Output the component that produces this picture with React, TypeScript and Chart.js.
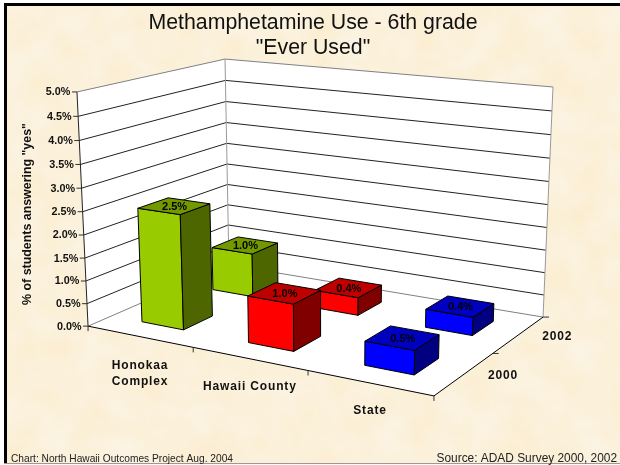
import React, { useEffect, useRef } from "react";
import { Chart, registerables } from "chart.js";

Chart.register(...registerables);

const titleLines = ["Methamphetamine Use - 6th grade", '"Ever Used"'];
const categories = ["Honokaa Complex", "Hawaii County", "State"];
const categoryLines = [["Honokaa", "Complex"], ["Hawaii County"], ["State"]];
const years = ["2000", "2002"];
const values2000 = [2.5, 1.0, 0.5];
const values2002 = [1.0, 0.4, 0.4];
const frontColors = ["#99CC00", "#FF0000", "#0000FF"];
const topColors = ["#739900", "#BF0000", "#0000BF"];
const sideColors = ["#4D6600", "#800000", "#000080"];
const axisTitle = '% of students answering "yes"';
const footerLeft = "Chart: North Hawaii Outcomes Project Aug. 2004";
const footerRight = "Source: ADAD Survey 2000, 2002";

// Camera calibration: [across, depth, height] in 0..1 -> canvas pixel.
const CAMERA_POINTS = [
  [0, 0, 0, 88, 326],
  [1, 0, 0, 434, 396],
  [1, 1, 0, 543, 317],
  [0, 1, 0, 229, 265],
  [0, 0, 1, 77, 92],
  [0, 1, 1, 225, 59],
  [1, 1, 1, 553, 87],
];
const BAR_FRACTION = 0.4;
const FONT = '"Liberation Sans", Arial, sans-serif';

function solveCamera(points: number[][]) {
  const n = 11;
  const A = Array.from({ length: n }, () => new Array(n + 1).fill(0));
  const add = (row: number[], rhs: number) => {
    for (let i = 0; i < n; i++) {
      for (let j = 0; j < n; j++) A[i][j] += row[i] * row[j];
      A[i][n] += row[i] * rhs;
    }
  };
  for (const [u, w, h, px, py] of points) {
    const x = px / 100;
    const y = py / 100;
    add([u, w, h, 1, 0, 0, 0, 0, -x * u, -x * w, -x * h], x);
    add([0, 0, 0, 0, u, w, h, 1, -y * u, -y * w, -y * h], y);
  }
  for (let c = 0; c < n; c++) {
    let best = c;
    for (let r = c + 1; r < n; r++) if (Math.abs(A[r][c]) > Math.abs(A[best][c])) best = r;
    [A[c], A[best]] = [A[best], A[c]];
    for (let r = 0; r < n; r++) {
      if (r === c) continue;
      const f = A[r][c] / A[c][c];
      for (let k = c; k <= n; k++) A[r][k] -= f * A[c][k];
    }
  }
  return A.map((row, i) => row[n] / row[i]);
}
const P = solveCamera(CAMERA_POINTS);
function project(u: number, w: number, h: number): [number, number] {
  const d = P[8] * u + P[9] * w + P[10] * h + 1;
  return [
    (100 * (P[0] * u + P[1] * w + P[2] * h + P[3])) / d,
    (100 * (P[4] * u + P[5] * w + P[6] * h + P[7])) / d,
  ];
}

const fmt = (v: number) => v.toFixed(1) + "%";

const scene3d = {
  id: "scene3d",
  afterDatasetsDraw(chart: any) {
    const { ctx, scales } = chart;
    const xs = scales.x;
    const ys = scales.y;
    const ds = scales.depth;
    const U = (i: number) => (xs.getPixelForValue(i) - xs.left) / xs.width;
    const W = (i: number) => (ds.getPixelForValue(i) - ds.left) / ds.width;
    const H = (v: number) => (ys.bottom - ys.getPixelForValue(v)) / ys.height;

    const poly = (pts: [number, number][], fill?: string, stroke?: string) => {
      ctx.beginPath();
      pts.forEach((p, i) => (i ? ctx.lineTo(p[0], p[1]) : ctx.moveTo(p[0], p[1])));
      ctx.closePath();
      if (fill) { ctx.fillStyle = fill; ctx.fill(); }
      if (stroke) { ctx.strokeStyle = stroke; ctx.lineWidth = 1; ctx.stroke(); }
    };
    const line = (a: [number, number], b: [number, number], color: string, width = 1) => {
      ctx.beginPath();
      ctx.moveTo(a[0], a[1]);
      ctx.lineTo(b[0], b[1]);
      ctx.strokeStyle = color;
      ctx.lineWidth = width;
      ctx.stroke();
    };

    ctx.save();
    // walls and floor
    poly([project(0, 0, 0), project(0, 1, 0), project(0, 1, 1), project(0, 0, 1)], "#fff");
    poly([project(0, 1, 0), project(1, 1, 0), project(1, 1, 1), project(0, 1, 1)], "#fff");
    poly([project(0, 0, 0), project(1, 0, 0), project(1, 1, 0), project(0, 1, 0)], "#fff");

    // value gridlines and axis labels
    const ticks = ys.getTicks();
    ticks.forEach((t: any) => {
      const h = H(t.value);
      const edge = t.value === 0 || t.value === ys.max;
      const col = edge ? "#808080" : "#222";
      line(project(0, 0, h), project(0, 1, h), col);
      line(project(0, 1, h), project(1, 1, h), col);
      const p = project(0, 0, h);
      line([p[0] - 5, p[1]], p, "#333");
      ctx.fillStyle = "#111";
      ctx.font = `bold 10.8px ${FONT}`;
      ctx.textAlign = "right";
      ctx.textBaseline = "middle";
      ctx.fillText(fmt(t.value), p[0] - 6.5, p[1] + 0.5);
    });
    line(project(0, 1, 0), project(0, 1, 1), "#999");
    line(project(1, 1, 0), project(1, 1, 1), "#999");
    line(project(0, 0, 0), project(0, 0, 1), "#222");

    // floor edges
    line(project(0, 0, 0), project(1, 0, 0), "#000");
    line(project(1, 0, 0), project(1, 1, 0), "#000");
    const nCat = categories.length;
    const nDepth = years.length;
    for (let i = 0; i <= nCat; i++) {
      const p = project(i / nCat, 0, 0);
      line(p, [p[0], p[1] + 5], "#333");
    }
    for (let i = 1; i <= nDepth; i++) {
      const p = project(1, i / nDepth, 0);
      line(p, [p[0] + 6, p[1]], "#333");
    }

    // bars, far row first
    const hu = BAR_FRACTION / (2 * nCat);
    const hw = BAR_FRACTION / (2 * nDepth);
    for (let d = nDepth - 1; d >= 0; d--) {
      const values = chart.data.datasets[d].data as number[];
      values.forEach((v, i) => {
        const u0 = U(i) - hu, u1 = U(i) + hu;
        const w0 = W(d) - hw, w1 = W(d) + hw;
        const h = H(v);
        poly([project(u0, w0, 0), project(u1, w0, 0), project(u1, w0, h), project(u0, w0, h)], frontColors[i], "#000");
        poly([project(u1, w0, 0), project(u1, w1, 0), project(u1, w1, h), project(u1, w0, h)], sideColors[i], "#000");
        poly([project(u0, w0, h), project(u1, w0, h), project(u1, w1, h), project(u0, w1, h)], topColors[i], "#000");
      });
    }
    // value labels on the bar tops
    ctx.font = `bold 11px ${FONT}`;
    ctx.textAlign = "center";
    ctx.textBaseline = "middle";
    ctx.fillStyle = "#000";
    for (let d = nDepth - 1; d >= 0; d--) {
      (chart.data.datasets[d].data as number[]).forEach((v, i) => {
        const p = project(U(i), W(d), H(v));
        ctx.fillText(fmt(v), p[0] + 0.5, p[1] + 1);
      });
    }

    // category labels
    ctx.font = `bold 12px ${FONT}`;
    ctx.fillStyle = "#111";
    (ctx as any).letterSpacing = "0.85px";
    ctx.textAlign = "center";
    categoryLines.forEach((lines, i) => {
      const p = project(U(i), 0, 0);
      lines.forEach((s, k) => ctx.fillText(s, p[0] + (i === 0 ? 0.5 : 0.5), p[1] + (i === 0 ? 29 : 28) + k * 16));
    });
    ctx.textAlign = "left";
    years.forEach((y, i) => {
      const p = project(1, W(i), 0);
      ctx.fillText(y, p[0] + 23.5, p[1] + 2);
    });
    (ctx as any).letterSpacing = "0px";

    // axis title
    ctx.save();
    ctx.translate(28, 214);
    ctx.rotate(-Math.PI / 2);
    ctx.textAlign = "center";
    ctx.font = `bold 12.4px ${FONT}`;
    ctx.fillText(axisTitle, 0, 0);
    ctx.restore();

    // footers
    ctx.textBaseline = "alphabetic";
    ctx.textAlign = "left";
    ctx.fillStyle = "#222";
    ctx.font = `10.2px ${FONT}`;
    ctx.fillText(footerLeft, 11, 462);
    ctx.textAlign = "right";
    ctx.font = `11.9px ${FONT}`;
    ctx.fillText(footerRight, 617, 462);
    ctx.restore();
  },
};

export default function App() {
  const ref = useRef<HTMLCanvasElement>(null);
  useEffect(() => {
    const chart = new Chart(ref.current!, {
      type: "bar",
      data: {
        labels: categories,
        datasets: [
          { label: years[0], data: values2000, backgroundColor: "transparent" },
          { label: years[1], data: values2002, backgroundColor: "transparent" },
        ],
      },
      options: {
        animation: false,
        responsive: false,
        events: [],
        layout: { padding: { left: 6 } },
        scales: {
          x: { type: "category", offset: true, display: false },
          depth: { type: "category", axis: "x", labels: years, offset: true, display: false },
          y: { type: "linear", min: 0, max: 5, ticks: { stepSize: 0.5 }, display: false },
        },
        plugins: {
          legend: { display: false },
          tooltip: { enabled: false },
          title: {
            display: true,
            text: titleLines,
            color: "#111",
            font: { family: FONT, size: 21.3, weight: "normal", lineHeight: 1.2 },
            padding: { top: 10, bottom: 4 },
          },
        },
      } as any,
      plugins: [scene3d],
    });
    return () => chart.destroy();
  }, []);
  return (
    <div style={{ position: "fixed", left: 0, top: 0, width: 620, height: 465, overflow: "hidden", background: "#fff" }}>
      <svg width={616} height={460} style={{ position: "absolute", left: 4, top: 3 }}>
        <filter id="parchment" x="0" y="0" width="100%" height="100%" colorInterpolationFilters="sRGB">
          <feTurbulence type="fractalNoise" baseFrequency="0.03" numOctaves={4} seed={7} />
          <feColorMatrix
            type="matrix"
            values="0 0 0 0 0.985
                    0.035 0 0 0 0.925
                    0.11 0 0 0 0.80
                    0 0 0 0 1"
          />
        </filter>
        <rect width="616" height="460" filter="url(#parchment)" />
      </svg>
      <div style={{ position: "absolute", left: 4, top: 3, width: 616, height: 3, background: "#000" }} />
      <div style={{ position: "absolute", left: 4, top: 3, width: 3, height: 460, background: "#000" }} />
      <div style={{ position: "absolute", left: 4, top: 463, width: 616, height: 1, background: "#999" }} />
      <canvas ref={ref} width={620} height={465} style={{ position: "absolute", left: 0, top: 0 }} />
    </div>
  );
}
